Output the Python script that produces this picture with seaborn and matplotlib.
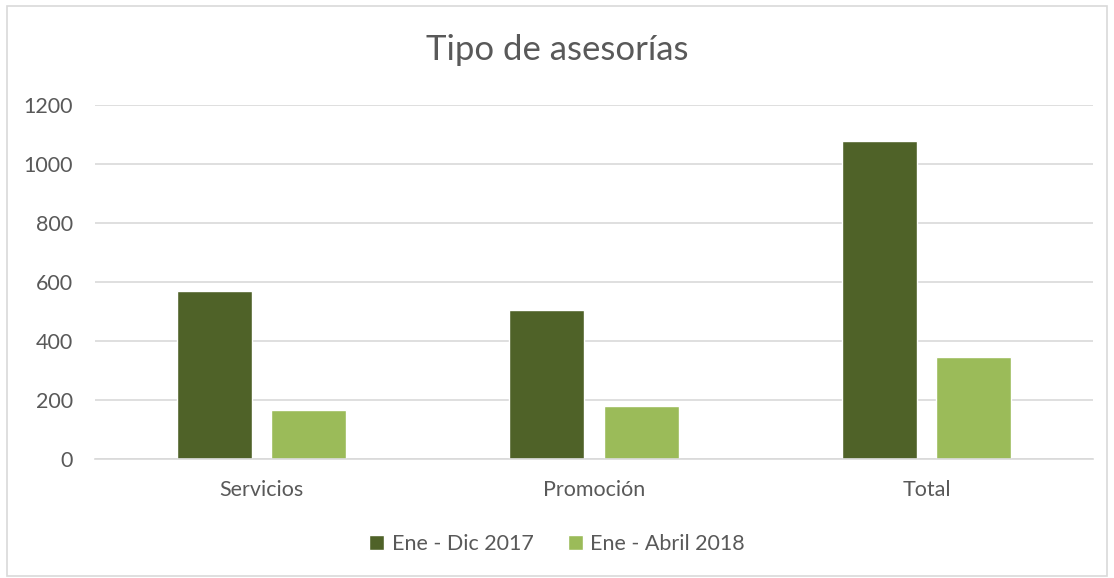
import pandas as pd
import seaborn as sns
import matplotlib.pyplot as plt
from matplotlib.patches import Rectangle

# data
categorias = ['Servicios', 'Promoción', 'Total']
periodos = ['Ene - Dic 2017', 'Ene - Abril 2018']
valores_2017 = [570, 504, 1078]
valores_2018 = [165, 178, 347]

colores = {'Ene - Dic 2017': '#4F6228', 'Ene - Abril 2018': '#9BBB59'}
gris_texto = '#595959'

df = pd.DataFrame({
    'categoria': categorias * 2,
    'periodo': [periodos[0]] * 3 + [periodos[1]] * 3,
    'valor': valores_2017 + valores_2018,
})

sns.set_style('white')
plt.rcParams['font.family'] = ['Lato', 'DejaVu Sans']

fig = plt.figure(figsize=(11.14, 5.78), dpi=100)
ax = fig.add_axes([95 / 1114, 119 / 578, 998 / 1114, 354 / 578])

sns.barplot(
    data=df, x='categoria', y='valor', hue='periodo',
    order=categorias, hue_order=periodos, palette=colores,
    width=0.567, gap=0.206, saturation=1, ax=ax,
)

ax.set_xlim(-0.5, 2.5)
ax.set_ylim(0, 1200)
ax.set_yticks(range(0, 1201, 200))
ax.yaxis.grid(True, color='#D9D9D9', linewidth=1.2)
ax.set_axisbelow(True)
for s in ['top', 'right', 'left']:
    ax.spines[s].set_visible(False)
ax.spines['bottom'].set_color('#D9D9D9')
ax.spines['bottom'].set_linewidth(1.2)
ax.set_xlabel('')
ax.set_ylabel('')
ax.tick_params(axis='y', length=0, pad=16, labelsize=15.5, labelcolor=gris_texto)
ax.tick_params(axis='x', length=0, pad=15, labelsize=15.5, labelcolor=gris_texto)

fig.text(0.5, 1 - 50 / 578, 'Tipo de asesorías', ha='center', va='center',
         fontsize=25, color=gris_texto)

ax.legend(loc='center', bbox_to_anchor=(0.5, 1 - 544 / 578), bbox_transform=fig.transFigure,
          ncol=2, frameon=False, fontsize=15.5, labelcolor=gris_texto,
          handlelength=0.7, handleheight=0.7, handletextpad=0.35, columnspacing=1.6)

# outer chart frame
fig.patches.append(Rectangle((7 / 1114, 2 / 578), 1100 / 1114, 570 / 578,
                             transform=fig.transFigure, fill=False,
                             edgecolor='#D9D9D9', linewidth=1.2))

fig.savefig('out.png', dpi=100)
